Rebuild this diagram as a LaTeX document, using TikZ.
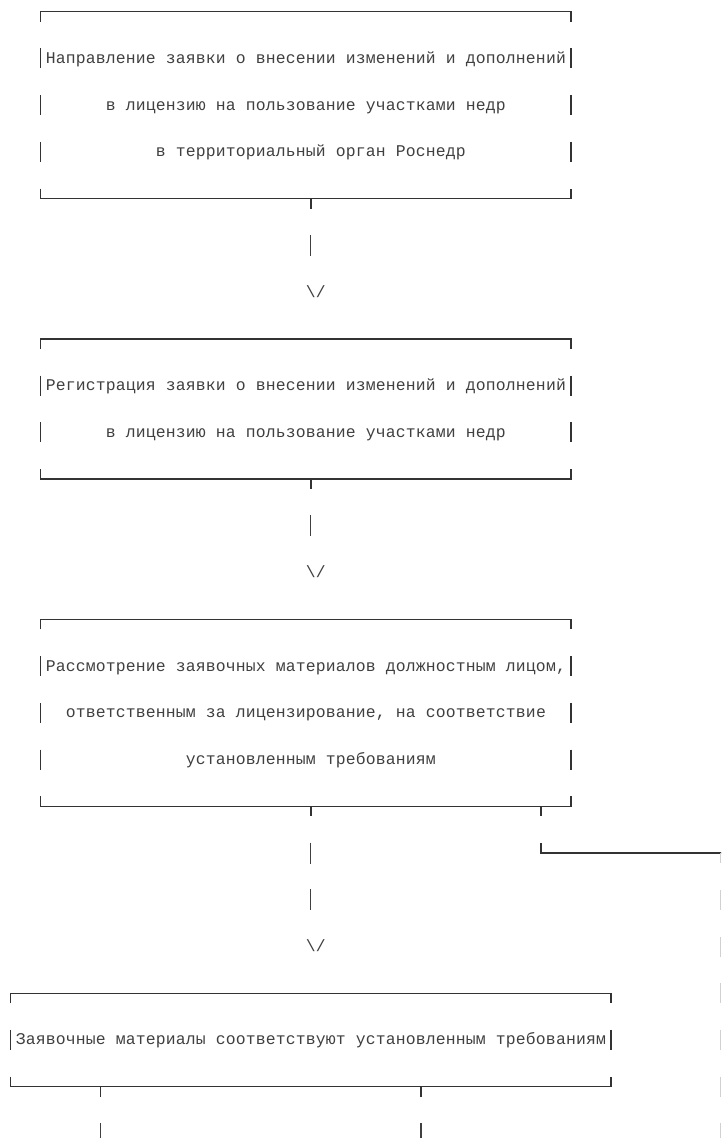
\documentclass[tikz,border=0pt]{standalone}
\usepackage{fontspec}
\newfontfamily\asciimono{Liberation Mono}
\newlength\cellw
\setlength\cellw{10.006pt}
\ExplSyntaxOn
\NewDocumentCommand \monotext { m }
  { \str_map_inline:nn { #1 } { \makebox[\cellw][c]{##1} } }
\ExplSyntaxOff
\def\CX#1{(35.7+((#1)+0.5)*10.006)}
\def\CL#1{(35.7+(#1)*10.006)}
\def\RY#1{(11.7+(#1)*46.74)}
\tikzset{
  boxline/.style={draw=black!80, line width=1.3pt, line cap=butt, line join=miter},
  pipeline/.style={draw=black!75, line width=1.2pt, line cap=butt},
  edgeline/.style={draw=black!18, line width=0.8pt, line cap=butt},
  txt/.style={inner sep=0pt, outer sep=0pt, anchor=base west, text=black!75,
              font=\asciimono\fontsize{16.4}{16.4}\selectfont}
}
% L R T B
\newcommand\asciibox[4]{%
  \draw[boxline] ({\CX{#1}},{\RY{#3}+10}) -- ({\CX{#1}},{\RY{#3}}) -- ({\CX{#2}},{\RY{#3}}) -- ({\CX{#2}},{\RY{#3}+10});
  \draw[boxline] ({\CX{#1}},{\RY{#4}-10}) -- ({\CX{#1}},{\RY{#4}}) -- ({\CX{#2}},{\RY{#4}}) -- ({\CX{#2}},{\RY{#4}-10});
  \pgfmathtruncatemacro\rfirst{#3+1}%
  \pgfmathtruncatemacro\rlast{#4-1}%
  \foreach \rr in {\rfirst,...,\rlast}{%
    \draw[boxline] ({\CX{#1}},{\RY{\rr}-10}) -- ({\CX{#1}},{\RY{\rr}+10});
    \draw[boxline] ({\CX{#2}},{\RY{\rr}-10}) -- ({\CX{#2}},{\RY{\rr}+10});
  }%
}
% down tick from bottom border: cell, row
\newcommand\downtick[2]{\draw[boxline] ({\CX{#1}},{\RY{#2}}) -- ({\CX{#1}},{\RY{#2}+10});}
% pipe in a row: cell,row
\newcommand\pipeat[2]{\draw[pipeline] ({\CX{#1}},{\RY{#2}-10.5}) -- ({\CX{#1}},{\RY{#2}+10.5});}
\begin{document}
\begin{tikzpicture}[x=1pt,y=-1pt]
\useasboundingbox (0,0) rectangle (721,1138);
\fill[white] (0,0) rectangle (721,1138);
\clip (0,0) rectangle (721,1138);

% Box 1
\asciibox{0}{53}{0}{4}
\node[txt] (b1l1) at ({\CL{1}},{\RY{1}+5}) {\monotext{Направление заявки о внесении изменений и дополнений}};
\node[txt] (b1l2) at ({\CL{7}},{\RY{2}+5}) {\monotext{в лицензию на пользование участками недр}};
\node[txt] (b1l3) at ({\CL{12}},{\RY{3}+5}) {\monotext{в территориальный орган Роснедр}};
\downtick{27}{4}
\pipeat{27}{5}
\node[txt] (arr1) at ({\CL{27}},{\RY{6}+5}) {\makebox[\cellw][c]{\textbackslash}\makebox[\cellw][c]{/}};

% Box 2
\asciibox{0}{53}{7}{10}
\node[txt] (b2l1) at ({\CL{1}},{\RY{8}+5}) {\monotext{Регистрация заявки о внесении изменений и дополнений}};
\node[txt] (b2l2) at ({\CL{7}},{\RY{9}+5}) {\monotext{в лицензию на пользование участками недр}};
\downtick{27}{10}
\pipeat{27}{11}
\node[txt] (arr2) at ({\CL{27}},{\RY{12}+5}) {\makebox[\cellw][c]{\textbackslash}\makebox[\cellw][c]{/}};

% Box 3
\asciibox{0}{53}{13}{17}
\node[txt] (b3l1) at ({\CL{1}},{\RY{14}+5}) {\monotext{Рассмотрение заявочных материалов должностным лицом,}};
\node[txt] (b3l2) at ({\CL{3}},{\RY{15}+5}) {\monotext{ответственным за лицензирование, на соответствие}};
\node[txt] (b3l3) at ({\CL{15}},{\RY{16}+5}) {\monotext{установленным требованиям}};
\downtick{27}{17}
\downtick{50}{17}
\pipeat{27}{18}
\pipeat{27}{19}
\node[txt] (arr3) at ({\CL{27}},{\RY{20}+5}) {\makebox[\cellw][c]{\textbackslash}\makebox[\cellw][c]{/}};

% branch to the right
\coordinate (brA) at ({\CX{50}},{\RY{18}-10});
\coordinate (brB) at ({\CX{50}},{\RY{18}});
\coordinate (brC) at (722,{\RY{18}});
\draw[boxline] (brA) -- (brB) -- (brC);
\draw[edgeline] (720.6,{\RY{18}}) -- (720.6,{\RY{18}+10});
\foreach \rr in {19,...,24}{
  \draw[edgeline] (720.6,{\RY{\rr}-10}) -- (720.6,{\RY{\rr}+10});
}

% Box 4
\asciibox{-3}{57}{21}{23}
\node[txt] (b4l1) at ({\CL{-2}},{\RY{22}+5}) {\monotext{Заявочные материалы соответствуют установленным требованиям}};
\downtick{6}{23}
\downtick{38}{23}
\pipeat{6}{24}
\pipeat{38}{24}
\end{tikzpicture}
\end{document}
